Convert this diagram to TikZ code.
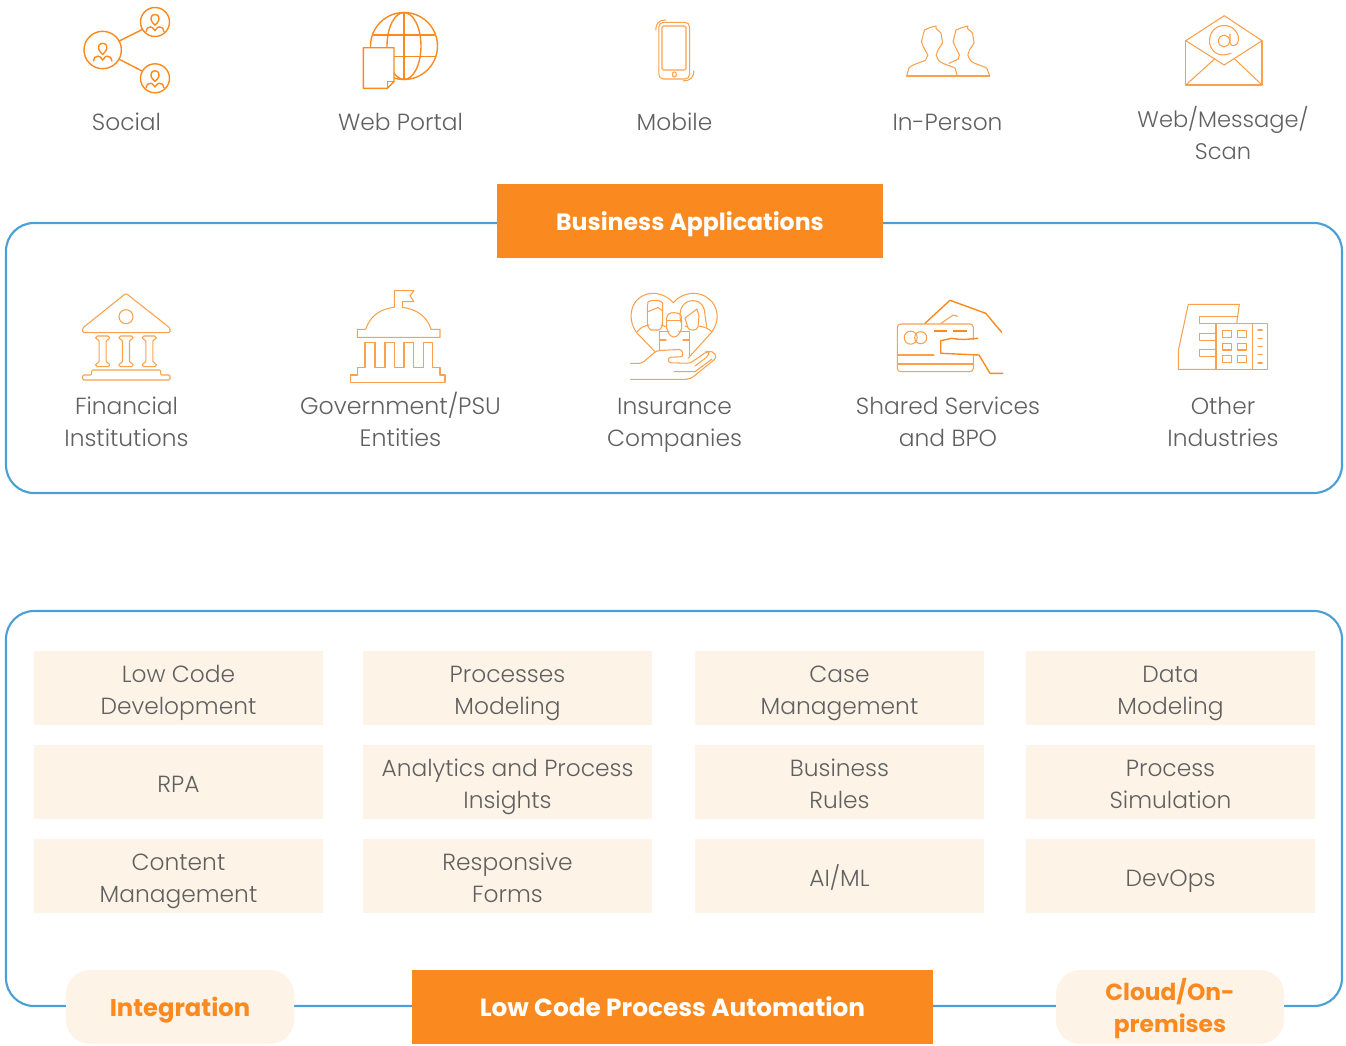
\documentclass[tikz,border=0pt]{standalone}
\usepackage{fontspec}
\setmainfont{Poppins}[UprightFont=* Light,BoldFont=* Bold]
\definecolor{org}{HTML}{FA8A20}
\definecolor{cream}{HTML}{FEF3E7}
\definecolor{frameblue}{HTML}{4A9FD6}
\definecolor{txt}{HTML}{606060}
\newcommand\sz[1]{\fontsize{#1}{24}\selectfont}
\tikzset{
 iconl/.style={draw=org,line width=1.05pt,line join=round,line cap=round},
 iconm/.style={draw=org!80,line width=.8pt,line join=round,line cap=round},
 frameb/.style={draw=frameblue,line width=1.6pt,rounded corners=21pt,minimum width=1002pt,inner sep=0pt},
 oneln/.style={text height=22.5pt,text depth=6.75pt},
 twoln/.style={text height=47.5pt,text depth=7.75pt},
 onebold/.style={text height=21.5pt,text depth=6.75pt},
 lab/.style={align=center,text=txt,font=\sz{17.5},inner sep=0pt},
 cell/.style={fill=cream,minimum width=216.75pt,minimum height=55.5pt,inner sep=0pt,align=center,text=txt,font=\sz{17.5}},
 banner/.style={onebold,fill=org,text=white,minimum height=55.5pt,inner sep=0pt},
 pill/.style={fill=cream,text=org,minimum width=171pt,minimum height=55.5pt,rounded corners=18pt,inner sep=0pt,align=center},
}
\newcommand\personicon[3]{%
 \begin{scope}[shift={(#1,#2)},scale=#3]
 \draw[iconl] (0,-7) .. controls (-4,-7) and (-5.6,-3.5) .. (-4.7,-1) .. controls (-4,1.5) and (-2.4,3.5) .. (0,5.5) .. controls (2.4,3.5) and (4,1.5) .. (4.7,-1) .. controls (5.6,-3.5) and (4,-7) .. (0,-7);
 \draw[iconl] (-10.5,13) .. controls (-10.5,9.5) and (-8.5,7.5) .. (-5,7.5) .. controls (-3.5,7.5) and (-1.5,9.5) .. (0,12) .. controls (1.5,9.5) and (3.5,7.5) .. (5,7.5) .. controls (8.5,7.5) and (10.5,9.5) .. (10.5,13);
 \end{scope}}
\begin{document}
\begin{tikzpicture}[x=.75pt,y=-.75pt]
\useasboundingbox (0,0) rectangle (1346,1046);
% frames
\node[frameb,minimum height=202.5pt] (topframe) at (674,358) {};
\node[frameb,minimum height=296.25pt] (botframe) at (674,808.5) {};
% banners
\node[banner,minimum width=289.5pt,font=\sz{17.7}\bfseries] (bizapp) at (690,221) {Business Applications};
\node[banner,minimum width=390.75pt,font=\sz{18.6}\bfseries] (lowcode) at (672.5,1007) {Low Code Process Automation};
\node[pill,onebold,font=\sz{18.2}\bfseries] (integ) at (180,1007) {Integration};
\node[pill,text height=46.75pt,text depth=8.5pt,font=\sz{17.5}\bfseries] (cloud) at (1170,1007) {Cloud/On-\\premises};
% channel labels
\node[lab,oneln] (l1) at (126.5,119.5) {Social};
\node[lab,oneln] (l2) at (400.5,119.5) {Web Portal};
\node[lab,oneln] (l3) at (674.5,119.5) {Mobile};
\node[lab,oneln] (l4) at (947.5,119.5) {In-Person};
\node[lab,twoln,font=\sz{16.9}] (l5) at (1223,132.5) {Web/Message/\\Scan};
% industry labels
\node[lab,twoln] (i1) at (126.5,419.5) {Financial\\Institutions};
\node[lab,twoln,font=\sz{17.8}] (i2) at (400.5,419.5) {Government/PSU\\Entities};
\node[lab,twoln] (i3) at (674.5,419.5) {Insurance\\Companies};
\node[lab,twoln] (i4) at (948,419.5) {Shared Services\\and BPO};
\node[lab,twoln] (i5) at (1223,419.5) {Other\\Industries};
% grid
\node[cell,twoln] (c11) at (178.5,688) {Low Code\\Development};
\node[cell,twoln] (c12) at (507.5,688) {Processes\\Modeling};
\node[cell,twoln] (c13) at (839.5,688) {Case\\Management};
\node[cell,twoln] (c14) at (1170.5,688) {Data\\Modeling};
\node[cell,oneln] (c21) at (178.5,782) {RPA};
\node[cell,twoln] (c22) at (507.5,782) {Analytics and Process\\Insights};
\node[cell,twoln] (c23) at (839.5,782) {Business\\Rules};
\node[cell,twoln] (c24) at (1170.5,782) {Process\\Simulation};
\node[cell,twoln] (c31) at (178.5,876) {Content\\Management};
\node[cell,twoln] (c32) at (507.5,876) {Responsive\\Forms};
\node[cell,oneln] (c33) at (839.5,876) {AI/ML};
\node[cell,oneln] (c34) at (1170.5,876) {DevOps};
% social
\draw[iconl] (102.7,50) circle[radius=18.7];
\draw[iconl] (155,22) circle[radius=14.5];
\draw[iconl] (155,78.3) circle[radius=14.5];
\draw[iconl] (119.3,41) -- (142.7,29.3);
\draw[iconl] (119.3,59.3) -- (142.7,71.3);
\personicon{102.7}{49.5}{.88}
\personicon{155}{20.5}{.85}
\personicon{155}{76.8}{.85}
% globe
\draw[iconl] (404,46) circle[radius=33.5];
\draw[iconl] (404,46) ellipse[x radius=17,y radius=33.5];
\draw[iconl] (404,12.5) -- (404,79.5);
\draw[iconl] (373.5,35) -- (434.5,35);
\draw[iconl] (373.5,56.7) -- (434.5,56.7);
\draw[iconl,fill=white] (363.3,47.7) -- (394,47.7) -- (394,81.7) -- (387.3,88.3) -- (363.3,88.3) -- cycle;
\draw[iconl] (394,81.7) -- (387.3,81.7) -- (387.3,88.3);
% mobile
\draw[iconm,rounded corners=3.5pt] (658.8,22.3) rectangle (689.6,79);
\draw[iconm,rounded corners=1pt] (662,26) rectangle (686,70);
\draw[iconm] (674.4,74.5) ellipse[x radius=2,y radius=2.6];
\draw[iconm] (655.8,30) .. controls (655.5,24) and (659,20) .. (665.5,20);
\draw[iconm] (693.8,71) .. controls (694,77) and (690,81) .. (683,81);
% persons
\draw[iconm] (906.7,76) -- (989.7,76);
\draw[iconm] (906.7,76) -- (908.8,68.3) .. controls (912,64) and (923,62) .. (925.7,60) -- (927.8,55) -- (923,46) -- (921.4,41.7) -- (924.4,30) -- (930,27.5) -- (936.2,26) -- (936,28.5) -- (941,33) -- (942.5,43) -- (938,50) -- (936.2,55) -- (938.3,60) .. controls (941,64) and (952,66) .. (955.2,68.3) -- (957.3,76);
\draw[iconm] (948.9,63.3) -- (958,59.3) -- (959.4,55) -- (955,46) -- (953,41.7) -- (956,30) -- (962,27.5) -- (967.8,26) -- (967.6,28.5) -- (972.5,33) -- (974.1,43) -- (969.5,50) -- (967.8,55) -- (970,60) .. controls (973,64) and (984,66) .. (986.8,68.3) -- (989.7,76);
% envelope
\draw[iconm] (1185.8,40.7) -- (1224.2,15.7) -- (1262,40.7) -- (1224.2,65) -- cycle;
\draw[iconm] (1185.8,40.7) -- (1185.8,85) -- (1262,85) -- (1262,40.7);
\draw[iconm] (1185.8,85) -- (1214.5,59);
\draw[iconm] (1262,85) -- (1234.7,59);
\draw[iconm] (1224,41) ellipse[x radius=5.5,y radius=6];
\draw[iconm] (1230,34) -- (1230,43) .. controls (1231,47.5) and (1238,47) .. (1238.5,39) .. controls (1238.5,31) and (1232,25.5) .. (1224,25.5) .. controls (1215,25.5) and (1209.5,33) .. (1209.5,41) .. controls (1209.5,49) and (1215,55) .. (1224,55) -- (1231,53.5);
% bank
\draw[iconm,rounded corners=1pt] (126,293.3) -- (170,328) -- (170,332.7) -- (82.7,332.7) -- (82.7,328) -- cycle;
\draw[iconm] (126,316.7) circle[radius=7];
\foreach \cx in {102.7,126,149.3}{
 \draw[iconm,rounded corners=1.2pt] (\cx-7,336) -- (\cx+7,336) -- (\cx+7,339.5) -- (\cx+3.5,339.5) -- (\cx+3.5,363) -- (\cx+7,363) -- (\cx+7,366.7) -- (\cx-7,366.7) -- (\cx-7,363) -- (\cx-3.5,363) -- (\cx-3.5,339.5) -- (\cx-7,339.5) -- cycle;}
\draw[iconm,rounded corners=.8pt] (91.7,375) -- (91.7,370) -- (160.7,370) -- (160.7,375) -- (170,375) -- (170,380) -- (82.7,380) -- (82.7,375) -- cycle;
% gov
\draw[iconm] (365.7,329.3) .. controls (370,316) and (380,309) .. (394.3,307.3) -- (394.3,290.7) -- (414,290.7) -- (410,295.7) -- (414,301.7) -- (402.3,301.7) -- (402.3,307.3) .. controls (416,309) and (427,316) .. (431,329.3) -- (440,329.3) -- (440,337.3) -- (357.3,337.3) -- (357.3,329.3) -- cycle;
\draw[iconm] (365,367.7) -- (365,342.3) -- (375,342.3) -- (375,367.7) -- (385,367.7) -- (385,342.3) -- (394.3,342.3) -- (394.3,367.7) -- (404,367.7) -- (404,342.3) -- (413.3,342.3) -- (413.3,367.7) -- (423.3,367.7) -- (423.3,342.3) -- (432.3,342.3) -- (432.3,367.7) -- (440,367.7) -- (440,375) -- (445,375) -- (445,382.7) -- (350.7,382.7) -- (350.7,375) -- (357.3,375) -- (357.3,367.7) -- cycle;
% insurance
\draw[iconm] (655,351.7) -- (637,333) .. controls (628,322) and (630,306) .. (638,299) .. controls (648,290) and (664,292) .. (673.3,302.7) .. controls (682,292) and (699,290) .. (709,299) .. controls (719,307) and (720,322) .. (711,333) -- (688.3,358);
\draw[iconm,rounded corners=3pt] (647.3,315) -- (647.3,306) .. controls (648,302) and (651,300.7) .. (655,300.7) .. controls (660,300.7) and (662.7,303) .. (662.7,307) -- (662.7,322) .. controls (662,328) and (659,330) .. (655,330) .. controls (651,330) and (648,328) .. (647.3,322) -- cycle;
\draw[iconm] (647.3,312) -- (658,307.5) -- (662.7,311);
\draw[iconm] (680.7,322) .. controls (678,308) and (684,300.7) .. (693,300.7) .. controls (702,300.7) and (705,308) .. (705,315) -- (706.7,327);
\draw[iconm] (697,309) -- (685,318) -- (688,328) .. controls (689,331) and (697,331) .. (698,327) -- (699,316) -- (697,309);
\draw[iconm] (637.3,331.7) .. controls (641,327) and (644,326) .. (649,325);
\draw[iconm] (661,325) -- (666,326.5);
\draw[iconm] (685,326) -- (688,327);
\draw[iconm] (699,326) .. controls (704,327) and (708,328) .. (711.7,331.7);
\draw[iconm] (666.7,322) -- (666.7,318) .. controls (667,314) and (670,312.7) .. (674,312.7) .. controls (678,312.7) and (681.7,314) .. (681.7,318) -- (681.7,328) .. controls (680,334) and (677,337) .. (674,337) .. controls (671,337) and (668,334) .. (666.7,328) -- cycle;
\draw[iconm] (666.7,320.7) -- (681.7,320.7);
\draw[iconm] (669,331.7) -- (659.3,331.7) -- (659.3,350.7);
\draw[iconm] (679,331.7) -- (689.3,331.7) -- (689.3,356);
\draw[iconm] (659.3,340) -- (666,340);
\draw[iconm] (683,340) -- (689.3,340);
\draw[iconm,rounded corners=2pt] (630.7,363.3) -- (641.7,363.3) -- (656.7,350.7) -- (681.7,349.3) -- (683.3,356.7) -- (668.3,357.3) -- (668.3,362.7) -- (690,363.3) -- (706.7,351.7) -- (710,352) -- (707,357) -- (695,366) ;
\draw[iconm,rounded corners=3pt] (706,351.5) -- (713,351) -- (717.3,357.3) -- (690,379.3) -- (630.7,379.3);
\draw[iconm] (674,371.7) -- (695,371.7) -- (712,359);
% card
\draw[iconl] (925,323.3) -- (950,300.3) -- (985.7,313.3) -- (1001.7,332.3);
\draw[iconm] (941,323.3) -- (953.3,315) -- (957.7,316.3);
\draw[iconm,rounded corners=2.5pt] (897.3,324) rectangle (973.3,371.7);
\draw[iconm] (910.7,337.7) circle[radius=6.5];
\draw[iconm] (920.7,337.7) circle[radius=6];
\draw[iconl,line width=1.4pt,line cap=butt] (934,330.7) -- (946.7,330.7);
\draw[iconl,line width=1.4pt,line cap=butt] (953.3,330.7) -- (966.7,330.7);
\draw[iconm] (897.3,355) -- (934,355);
\draw[iconm] (897.3,364) -- (973.3,364);
\fill[white] (941,339.5) rectangle (980,354);
\draw[iconl] (977.7,338.3) .. controls (965,339.5) and (962,340) .. (951.7,338.3) -- (940.7,340.7) -- (940.7,353.3) -- (979,355) -- (990,373.3) -- (1002.7,373.3);
% other industries
\draw[iconm] (1216,369.3) -- (1178.3,369.3) -- (1178.3,350.7) -- (1188.3,304.3) -- (1239.3,304.3) -- (1236.7,323.3);
\draw[iconm] (1216,323.3) rectangle (1267.3,369.3);
\draw[iconm] (1252.7,323.3) -- (1252.7,369.3);
\draw[iconm] (1237,316.7) -- (1199.3,316.7) -- (1199.3,323.3) -- (1216,323.3);
\draw[iconm] (1216,333.3) -- (1199.3,333.3) -- (1199.3,340.3) -- (1216,340.3);
\draw[iconm] (1216,349.7) -- (1199.3,349.7) -- (1199.3,356.7) -- (1216,356.7);
\foreach \wy/\wh in {330.7/337.3,343.7/350,355.3/362.3}{
 \draw[iconm] (1222.7,\wy) rectangle (1231.3,\wh);
 \draw[iconm] (1237.7,\wy) rectangle (1246.7,\wh);}
\foreach \dy in {330,338.3,346.3,354.7,363}{\draw[iconm] (1258,\dy) -- (1262.3,\dy);}
\end{tikzpicture}
\end{document}
